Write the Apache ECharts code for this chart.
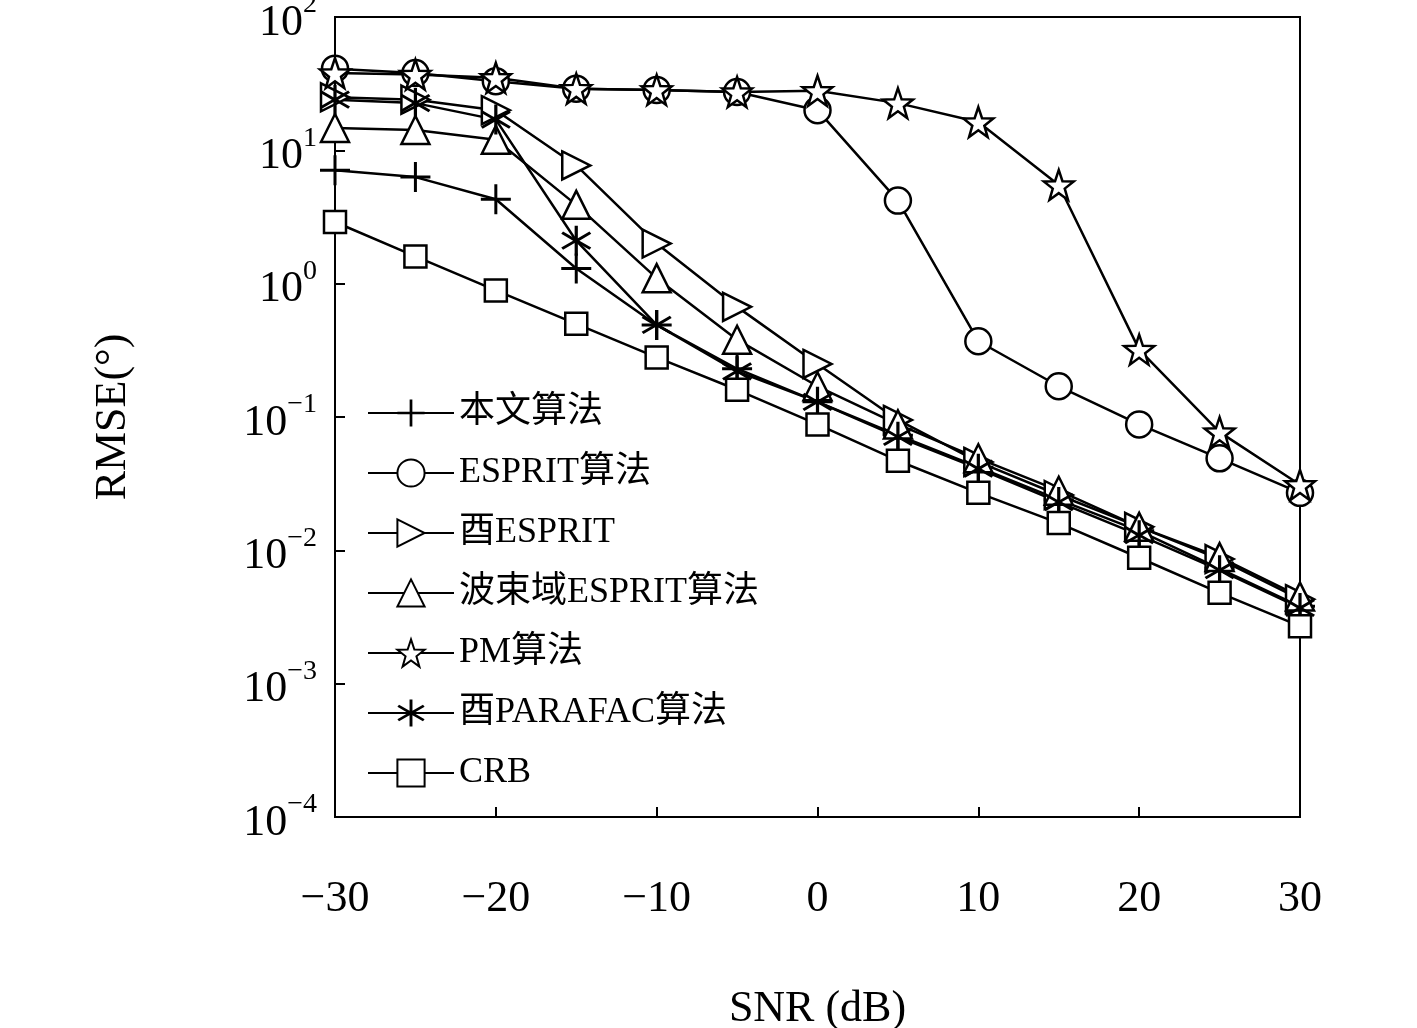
<!DOCTYPE html>
<html>
<head>
<meta charset="UTF-8">
<script src="https://cdn.jsdelivr.net/npm/echarts@6/dist/echarts.min.js"></script>
</head>
<body style="margin:0;background:#fff">
<div id="main" style="width:1417px;height:1028px;"></div>
<script>
var snr = [-30, -25, -20, -15, -10, -5, 0, 5, 10, 15, 20, 25, 30];
var proposed = [7.1, 6.3, 4.3, 1.3, 0.49, 0.23, 0.13, 0.073, 0.042, 0.024, 0.014, 0.0073, 0.0038];
var esprit = [41, 38, 33, 29, 28.4, 27.4, 20, 4.2, 0.37, 0.17, 0.088, 0.049, 0.027];
var uEsprit = [25, 24, 20, 7.7, 2.0, 0.67, 0.25, 0.095, 0.046, 0.026, 0.015, 0.0086, 0.0043];
var bsEsprit = [14.7, 14.2, 12, 3.9, 1.1, 0.38, 0.17, 0.088, 0.049, 0.028, 0.015, 0.0089, 0.0045];
var pm = [38, 37, 35, 29, 28.4, 27.4, 28, 22.6, 16.3, 5.5, 0.32, 0.077, 0.031];
var uParafac = [24, 22.6, 17, 2.1, 0.49, 0.22, 0.13, 0.071, 0.041, 0.023, 0.013, 0.0071, 0.0037];
var crb = [2.9, 1.6, 0.89, 0.5, 0.28, 0.16, 0.088, 0.047, 0.027, 0.016, 0.0088, 0.0048, 0.0027];
var names = ['本文算法', 'ESPRIT算法', '酉ESPRIT', '波束域ESPRIT算法', 'PM算法', '酉PARAFAC算法', 'CRB'];

var FONT = "'Liberation Serif', 'DejaVu Serif', 'Noto Sans CJK SC', serif";
var plusPath = 'path://M-1,-10L1,-10L1,-1L10,-1L10,1L1,1L1,10L-1,10L-1,1L-10,1L-10,-1L-1,-1Z';
var astPath = 'path://M-0.9,-10L0.9,-10L0.9,-1.6L7.4,-6.1L8.4,-4.6L1.8,0L8.4,4.6L7.4,6.1L0.9,1.6L0.9,10L-0.9,10L-0.9,1.6L-7.4,6.1L-8.4,4.6L-1.8,0L-8.4,-4.6L-7.4,-6.1L-0.9,-1.6Z';
var rtriPath = 'path://M-8,-10L10,0L-8,10Z';
var starPath = 'path://M0,-10L2.35,-3.24L9.51,-3.09L3.8,1.24L5.88,8.09L0,4L-5.88,8.09L-3.8,1.24L-9.51,-3.09L-2.35,-3.24Z';

function mk(name, data, symbol, solid, size) {
  return {
    name: name, type: 'line', data: snr.map(function (x, i) { return [x, data[i]]; }),
    symbol: symbol, symbolSize: size || 26,
    lineStyle: { color: '#000', width: 2.5 },
    itemStyle: solid ? { color: '#000' } : { color: '#fff', borderColor: '#000', borderWidth: 2.5 }
  };
}

var sup = { '-4': '−4', '-3': '−3', '-2': '−2', '-1': '−1', '0': '0', '1': '1', '2': '2' };
var chart = echarts.init(document.getElementById('main'));
chart.setOption({
  animation: false,
  grid: { left: 335, right: 117, top: 17, bottom: 211, show: true, borderColor: '#000', borderWidth: 2,
    containLabel: false, outerBoundsMode: 'none' },
  xAxis: {
    type: 'value', min: -30, max: 30, interval: 10,
    name: 'SNR (dB)', nameLocation: 'middle', nameGap: 170,
    nameTextStyle: { fontFamily: FONT, fontSize: 44, color: '#000' },
    axisLine: { onZero: false, lineStyle: { color: '#000', width: 2 } },
    axisTick: { inside: true, length: 10, lineStyle: { color: '#000', width: 2 } },
    splitLine: { show: false },
    axisLabel: { fontFamily: FONT, fontSize: 44, color: '#000', margin: 60,
      formatter: function (v) { return v < 0 ? '−' + (-v) : '' + v; } }
  },
  yAxis: {
    type: 'log', min: 1e-4, max: 100, logBase: 10,
    name: 'RMSE(°)', nameLocation: 'middle', nameGap: 200,
    nameTextStyle: { fontFamily: FONT, fontSize: 44, color: '#000' },
    axisLine: { onZero: false, lineStyle: { color: '#000', width: 2 } },
    axisTick: { inside: true, length: 10, lineStyle: { color: '#000', width: 2 } },
    splitLine: { show: false },
    axisLabel: { fontFamily: FONT, color: '#000', margin: 18,
      formatter: function (v) {
        var e = Math.round(Math.log10(v));
        return '{b|10}{s|' + sup[e] + '}';
      },
      rich: {
        b: { fontFamily: FONT, fontSize: 44, color: '#000', padding: [12, 0, 0, 0] },
        s: { fontFamily: FONT, fontSize: 28, color: '#000', padding: [0, 0, 24, 0] }
      }
    }
  },
  legend: {
    orient: 'vertical', left: 362, top: 390, itemGap: 24, itemWidth: 86, itemHeight: 34,
    data: names, textStyle: { fontFamily: FONT, fontSize: 36, color: '#000' }
  },
  series: [
    mk(names[0], proposed, plusPath, true, 30),
    mk(names[1], esprit, 'circle', false, 26),
    mk(names[2], uEsprit, rtriPath, false, 28),
    mk(names[3], bsEsprit, 'triangle', false, 28),
    mk(names[4], pm, starPath, false, 30),
    mk(names[5], uParafac, astPath, true, 30),
    mk(names[6], crb, 'rect', false, 22)
  ]
});
</script>
</body>
</html>
